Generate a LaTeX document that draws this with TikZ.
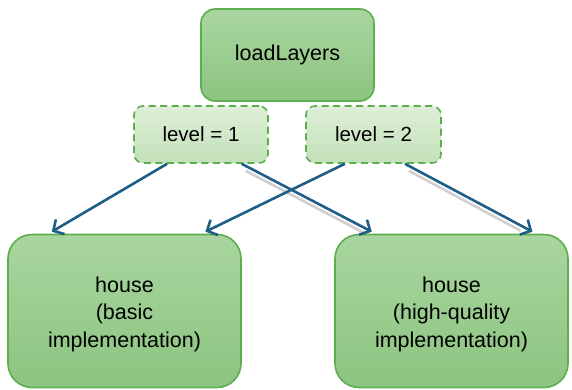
\documentclass[tikz,border=0pt]{standalone}
\usepackage{fontspec}
\setmainfont{Liberation Sans}
\usetikzlibrary{arrows.meta,calc}

\definecolor{boxline}{HTML}{5CAE4E}
\definecolor{boxtop}{HTML}{A9D69F}
\definecolor{boxbot}{HTML}{8CC480}
\definecolor{lvltop}{HTML}{DDEFD7}
\definecolor{lvlbot}{HTML}{C3E1B9}
\definecolor{arrowblue}{HTML}{1F5E86}
\definecolor{shadowgray}{HTML}{CFCFCF}

\tikzset{
  x=1pt, y=-1pt,
  solidbox/.style={draw=boxline, line width=1.6pt, rounded corners=14pt,
    top color=boxtop, bottom color=boxbot, align=center,
    font=\fontsize{21.5}{27.5}\selectfont, inner sep=0pt},
  housebox/.style={solidbox, rounded corners=24pt,
    minimum width=233pt, minimum height=153pt},
  houselabel/.style={align=center, font=\fontsize{21.5}{27.5}\selectfont, inner sep=0pt},
  levelbox/.style={draw=boxline, line width=1.6pt, dash pattern=on 7pt off 4.5pt,
    rounded corners=9pt, top color=lvltop, bottom color=lvlbot,
    font=\fontsize{20.5}{24}\selectfont, inner sep=0pt,
    minimum width=134pt, minimum height=57pt},
  link/.style={draw=arrowblue, line width=2.6pt,
    -{Straight Barb[length=8pt,width=17pt,line width=2.6pt]}},
  linkshadow/.style={draw=shadowgray, line width=2.6pt},
}

\begin{document}
\begin{tikzpicture}
  \useasboundingbox (0,0) rectangle (572,389);

  \node[solidbox, minimum width=173pt, minimum height=92pt] (top) at (287.5,55) {loadLayers};
  \node[levelbox] (lv1) at (201,134.5) {level = 1};
  \node[levelbox, minimum width=135pt] (lv2) at (373.5,134.5) {level = 2};
  \node[housebox] (hbasic) at (124.5,311) {};
  \node[housebox] (hhigh) at (451.5,311) {};
  \node[houselabel] (tbasic) at ($(hbasic.center)+(0,3)$) {house\\(basic\\implementation)};
  \node[houselabel] (thigh) at ($(hhigh.center)+(0,3)$) {house\\(high-quality\\implementation)};

  % connector end points on the box edges
  \coordinate (a1) at ($(lv1.south west)!0.25!(lv1.south east)$);
  \coordinate (a2) at ($(lv1.south west)!0.80!(lv1.south east)$);
  \coordinate (b1) at ($(lv2.south west)!0.29!(lv2.south east)$);
  \coordinate (b2) at ($(lv2.south west)!0.73!(lv2.south east)$);
  \coordinate (p1) at ($(hbasic.north west)!0.19!(hbasic.north east)+(0,-2)$);
  \coordinate (p2) at ($(hbasic.north west)!0.845!(hbasic.north east)+(0,-2)$);
  \coordinate (q1) at ($(hhigh.north west)!0.16!(hhigh.north east)+(0,-2)$);
  \coordinate (q2) at ($(hhigh.north west)!0.845!(hhigh.north east)+(0,-2)$);

  % soft shadows under the right-going connectors
  \draw[linkshadow] ($(a2)+(4,7)$) -- ($(q1)+(-8,1)$);
  \draw[linkshadow] ($(b2)+(4,7)$) -- ($(q2)+(-12,-1)$);

  \draw[link] (a1) -- (p1);
  \draw[link] (a2) -- (q1);
  \draw[link] (b1) -- (p2);
  \draw[link] (b2) -- (q2);
\end{tikzpicture}
\end{document}
